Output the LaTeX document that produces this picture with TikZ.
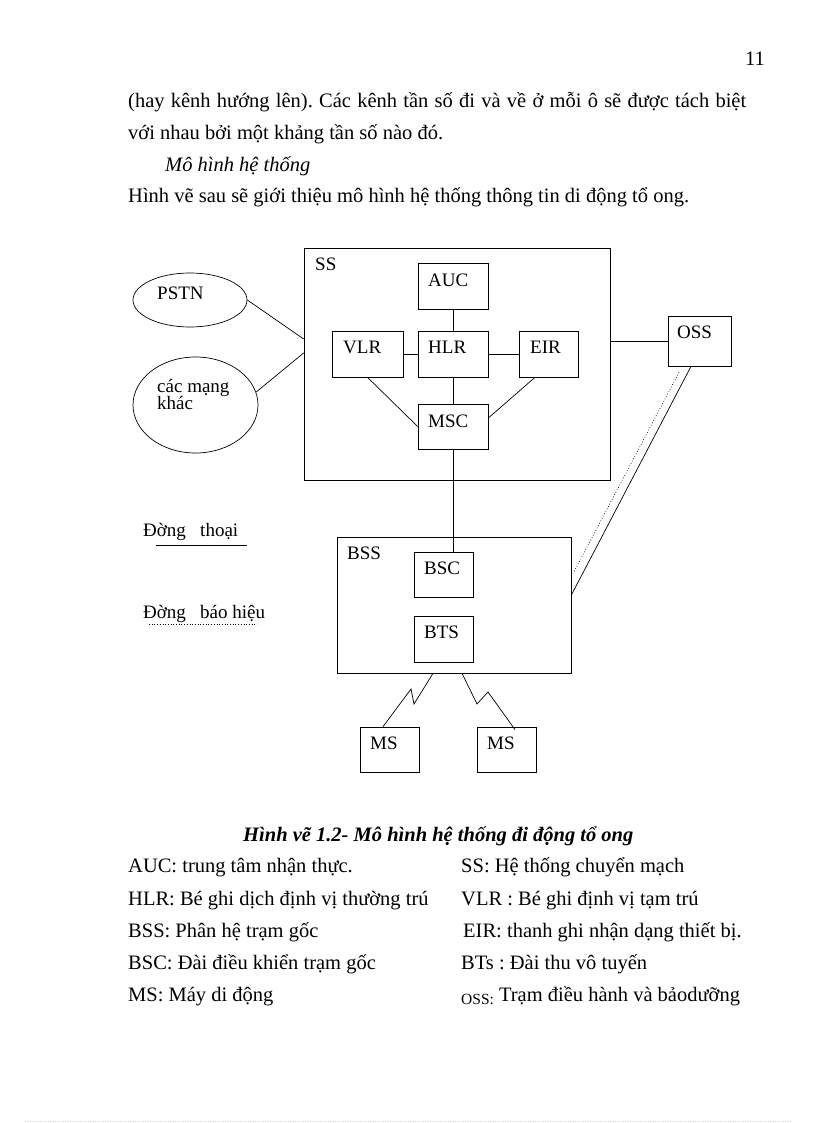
\documentclass[tikz,border=0pt]{standalone}
\usepackage{fontspec}
\setmainfont{Liberation Serif}
\usetikzlibrary{shapes.geometric}
\frenchspacing
\begin{document}
\begin{tikzpicture}[x=1pt,y=-1pt,
  box/.style={draw,line width=0.7pt,inner sep=0pt,minimum width=#1},
  box/.default=59pt,
  oval/.style={draw,line width=0.7pt,ellipse,inner sep=0pt},
  conn/.style={line width=0.7pt},
  sig/.style={line width=0.7pt,dotted},
  lbl/.style={inner sep=0pt,anchor=base west,font=\fontsize{19}{21}\selectfont},
  txt/.style={inner sep=0pt,anchor=base west,font=\fontsize{20.5}{22}\selectfont},
]
\useasboundingbox (0,0) rectangle (816,1123);

% header and body text
\node[txt,anchor=base east] (pg) at (765,66) {11};
\node[txt] (l1) at (128,108) {\makebox[618pt][s]{(hay kênh hướng lên). Các kênh tần số đi và về ở mỗi ô sẽ được tách biệt}};
\node[txt] (l2) at (128,140) {với nhau bởi một khảng tần số nào đó.};
\node[txt,font=\fontsize{20.5}{22}\selectfont\itshape] (l3) at (165,172) {Mô hình hệ thống};
\node[txt] (l4) at (128,203) {Hình vẽ sau sẽ giới thiệu mô hình hệ thống thông tin di động tổ ong.};

% SS subsystem
\node[box=306pt,minimum height=232pt] (ss) at (457,364) {};
\node[box=70pt,minimum height=46pt] (auc) at (453,286) {};
\node[box=71pt,minimum height=46pt] (vlr) at (367.5,354) {};
\node[box=70pt,minimum height=46pt] (hlr) at (453,354) {};
\node[box=59pt,minimum height=46pt] (eir) at (548.5,354) {};
\node[box=70pt,minimum height=45pt] (msc) at (453,426.5) {};
\node[box=63pt,minimum height=50pt] (oss) at (699.5,341) {};

\node[lbl] (tss) at (315,270) {SS};
\node[lbl] (tauc) at (428,286) {AUC};
\node[lbl] (tvlr) at (343,353) {VLR};
\node[lbl] (thlr) at (428,353) {HLR};
\node[lbl] (teir) at (530,353) {EIR};
\node[lbl] (tmsc) at (428,427) {MSC};
\node[lbl] (toss) at (677,338) {OSS};

% external networks
\node[oval,minimum width=114pt,minimum height=54pt] (pstn) at (190,300) {};
\node[oval,minimum width=125pt,minimum height=96pt] (khac) at (195.5,405) {};
\node[lbl] (tpstn) at (157,299) {PSTN};
\node[lbl] (tkhac1) at (157,392) {các mạng};
\node[lbl] (tkhac2) at (157,409) {khác};

% BSS subsystem
\node[box=234pt,minimum height=136pt] (bss) at (454,605) {};
\node[box=59pt,minimum height=45pt] (bsc) at (443.5,574.5) {};
\node[box=59pt,minimum height=46pt] (bts) at (443.5,639) {};
\node[box=59pt,minimum height=45pt] (ms1) at (389.5,749.5) {};
\node[box=59pt,minimum height=45pt] (ms2) at (506.5,749.5) {};
\node[lbl] (tbss) at (347,559) {BSS};
\node[lbl] (tbsc) at (424,574) {BSC};
\node[lbl] (tbts) at (424,638) {BTS};
\node[lbl] (tms1) at (370,749) {MS};
\node[lbl] (tms2) at (487,749) {MS};

% line legend
\node[lbl] (kthoai) at (143,536) {Đờng\ \ \ thoại};
\node[lbl] (kbao) at (143,618) {Đờng\ \ \ báo hiệu};
\coordinate (u1a) at (156,545);
\coordinate (u1b) at (247,545);
\coordinate (u2a) at (149,624);
\coordinate (u2b) at (257,624);
\draw[conn] (u1a) -- (u1b);
\draw[sig] (u2a) -- (u2b);

% connectors
\draw[conn] (pstn.east) -- ([yshift=25pt]ss.west);
\draw[conn] (khac.12) -- ([yshift=11pt]ss.west);
\draw[conn] (auc.south) -- (hlr.north);
\draw[conn] (vlr.east) -- (hlr.west);
\draw[conn] (hlr.east) -- (eir.west);
\draw[conn] (hlr.south) -- (msc.north);
\draw[conn] (vlr.south) -- (msc.west);
\draw[conn] ([xshift=-13.5pt]eir.south) -- ([yshift=8.5pt]msc.east);
\draw[conn] (msc.south) -- (msc.south |- bsc.north);
\draw[conn] (ss.east |- oss.west) -- (oss.west);
\draw[conn] ([xshift=-8.5pt]oss.south) -- ([yshift=10pt]bss.east);
\draw[sig] ([xshift=-20.5pt,yshift=-6pt]oss.south) -- ([xshift=2pt,yshift=32pt]bss.east);
\draw[conn] ([xshift=-21pt]bss.south) -- (414,704) -- (411,689) -- ([xshift=-6.5pt]ms1.north);
\draw[conn] ([xshift=8pt]bss.south) -- (477,704) -- (488,692) -- ([xshift=8.5pt,yshift=-3pt]ms2.north);

% caption and legend
\node[txt,font=\fontsize{20.5}{22}\selectfont\bfseries\itshape] (cap) at (243,841) {Hình vẽ 1.2- Mô hình hệ thống đi động tổ ong};
\node[txt] (a1) at (128,872) {AUC: trung tâm nhận thực.};
\node[txt] (a2) at (128,905) {HLR: Bé ghi dịch định vị thường trú};
\node[txt] (a3) at (128,937) {BSS: Phân hệ trạm gốc};
\node[txt] (a4) at (128,969) {BSC: Đài điều khiển trạm gốc};
\node[txt] (a5) at (128,1001) {MS: Máy di động};
\node[txt] (b1) at (461,872) {SS: Hệ thống chuyển mạch};
\node[txt] (b2) at (461,905) {VLR : Bé ghi định vị tạm trú};
\node[txt] (b3) at (463,937) {EIR: thanh ghi nhận dạng thiết bị.};
\node[txt] (b4) at (461,969) {BTs : Đài thu vô tuyến};
\node[txt] (b5) at (461,1001) {\raisebox{-3pt}{\fontsize{15.5}{17}\selectfont OSS:} Trạm điều hành và bảodưỡng};

% faint page rule
\coordinate (fa) at (25,1121);
\coordinate (fb) at (792,1121);
\draw[gray!35,dotted,line width=0.5pt] (fa) -- (fb);
\end{tikzpicture}
\end{document}
